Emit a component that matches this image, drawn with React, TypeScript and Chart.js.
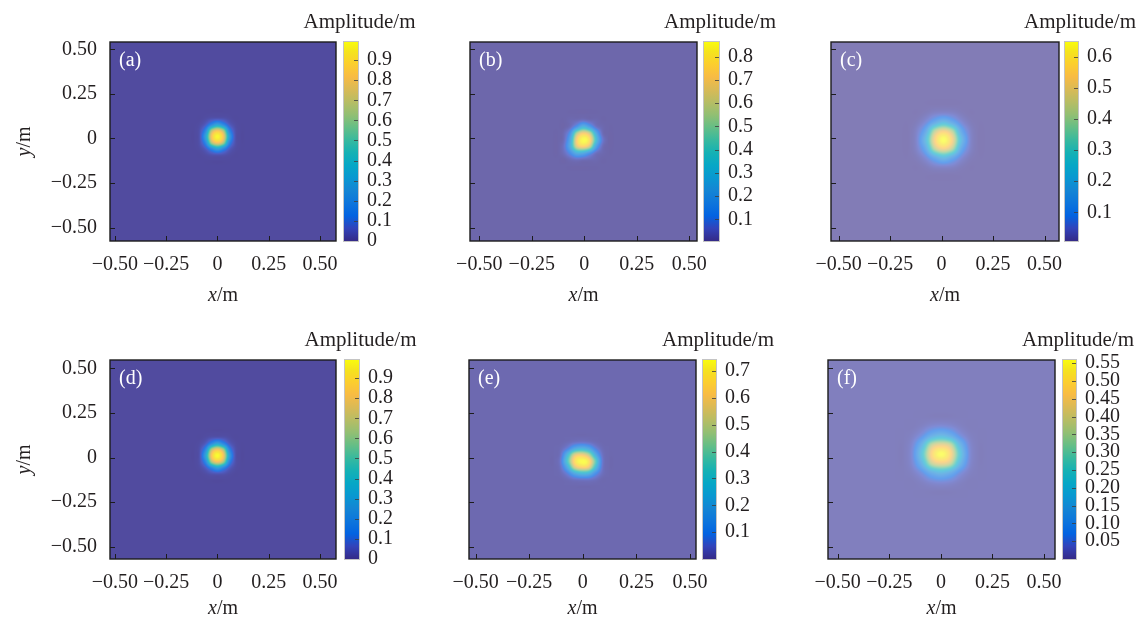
import React, { useEffect, useRef } from 'react';
import { Chart, registerables } from 'chart.js';

Chart.register(...registerables);

// ---------------- data ----------------
const PANEL_LABELS = ['(a)', '(b)', '(c)', '(d)', '(e)', '(f)'];
const AXIS_TICKS = [-0.5, -0.25, 0, 0.25, 0.5];
const X_TICK_LABELS = ['\u22120.50', '\u22120.25', '0', '0.25', '0.50'];
const Y_TICK_LABELS = ['\u22120.50', '\u22120.25', '0', '0.25', '0.50'];
const X_TITLE = ['x', '/m'];
const Y_TITLE = ['y', '/m'];
const CB_TITLE = 'Amplitude/m';

const X_MIN = [-0.524, -0.544, -0.537, -0.524, -0.531, -0.547];
const X_MAX = [0.578, 0.537, 0.57, 0.578, 0.528, 0.553];
const Y_MIN = [-0.575, -0.575, -0.575, -0.569, -0.569, -0.569];
const Y_MAX = [0.541, 0.541, 0.541, 0.547, 0.547, 0.547];

const CB_MIN = [0, 0.007, 0.008, 0, 0, 0];
const CB_MAX = [0.99, 0.863, 0.647, 0.99, 0.741, 0.559];

const CB_TICKS_A = [0, 0.1, 0.2, 0.3, 0.4, 0.5, 0.6, 0.7, 0.8, 0.9];
const CB_LABELS_A = ['0', '0.1', '0.2', '0.3', '0.4', '0.5', '0.6', '0.7', '0.8', '0.9'];
const CB_TICKS_B = [0.1, 0.2, 0.3, 0.4, 0.5, 0.6, 0.7, 0.8];
const CB_LABELS_B = ['0.1', '0.2', '0.3', '0.4', '0.5', '0.6', '0.7', '0.8'];
const CB_TICKS_C = [0.1, 0.2, 0.3, 0.4, 0.5, 0.6];
const CB_LABELS_C = ['0.1', '0.2', '0.3', '0.4', '0.5', '0.6'];
const CB_TICKS_D = [0, 0.1, 0.2, 0.3, 0.4, 0.5, 0.6, 0.7, 0.8, 0.9];
const CB_LABELS_D = ['0', '0.1', '0.2', '0.3', '0.4', '0.5', '0.6', '0.7', '0.8', '0.9'];
const CB_TICKS_E = [0.1, 0.2, 0.3, 0.4, 0.5, 0.6, 0.7];
const CB_LABELS_E = ['0.1', '0.2', '0.3', '0.4', '0.5', '0.6', '0.7'];
const CB_TICKS_F = [0.05, 0.1, 0.15, 0.2, 0.25, 0.3, 0.35, 0.4, 0.45, 0.5, 0.55];
const CB_LABELS_F = ['0.05', '0.10', '0.15', '0.20', '0.25', '0.30', '0.35', '0.40', '0.45', '0.50', '0.55'];

// sample grids (x left->right, y top->bottom) and amplitudes (rows top->bottom)
const GRID_X_A = [-0.112, -0.084, -0.056, -0.028, 0, 0.028, 0.056, 0.084, 0.112];
const GRID_Y_A = [0.142, 0.109, 0.076, 0.043, 0.01, -0.023, -0.056, -0.089, -0.122];
const AMP_A = [
  [0.01, 0.01, 0.01, 0.01, 0.01, 0.01, 0.01, 0.01, 0.01],
  [0.01, 0.01, 0.02, 0.04, 0.05, 0.04, 0.02, 0.01, 0.01],
  [0.01, 0.02, 0.07, 0.21, 0.32, 0.21, 0.07, 0.02, 0.01],
  [0.01, 0.04, 0.21, 0.67, 0.82, 0.67, 0.21, 0.04, 0.01],
  [0.01, 0.05, 0.32, 0.82, 0.98, 0.82, 0.32, 0.05, 0.01],
  [0.01, 0.04, 0.21, 0.67, 0.82, 0.67, 0.21, 0.04, 0.01],
  [0.01, 0.02, 0.07, 0.21, 0.32, 0.21, 0.07, 0.02, 0.01],
  [0.01, 0.01, 0.02, 0.04, 0.05, 0.04, 0.02, 0.01, 0.01],
  [0.01, 0.01, 0.01, 0.01, 0.01, 0.01, 0.01, 0.01, 0.01],
];

const GRID_X_B = [-0.125, -0.095, -0.065, -0.035, -0.005, 0.025, 0.055, 0.085, 0.115];
const GRID_Y_B = [0.136, 0.1, 0.064, 0.028, -0.008, -0.044, -0.08, -0.116, -0.152];
const AMP_B = [
  [0.01, 0.01, 0.01, 0.01, 0.01, 0.01, 0.01, 0.01, 0.01],
  [0.01, 0.01, 0.02, 0.03, 0.05, 0.03, 0.02, 0.01, 0.01],
  [0.01, 0.01, 0.04, 0.16, 0.3, 0.2, 0.06, 0.02, 0.01],
  [0.01, 0.03, 0.16, 0.56, 0.72, 0.62, 0.26, 0.04, 0.01],
  [0.01, 0.04, 0.24, 0.72, 0.86, 0.78, 0.36, 0.08, 0.01],
  [0.01, 0.06, 0.26, 0.64, 0.74, 0.62, 0.22, 0.04, 0.01],
  [0.01, 0.04, 0.13, 0.27, 0.26, 0.16, 0.05, 0.02, 0.01],
  [0.01, 0.01, 0.03, 0.05, 0.04, 0.03, 0.02, 0.01, 0.01],
  [0.01, 0.01, 0.01, 0.01, 0.01, 0.01, 0.01, 0.01, 0.01],
];

const GRID_X_C = [-0.159, -0.117, -0.075, -0.033, 0.009, 0.051, 0.093, 0.135, 0.177];
const GRID_Y_C = [0.184, 0.136, 0.088, 0.04, -0.008, -0.056, -0.104, -0.152, -0.2];
const AMP_C = [
  [0.01, 0.01, 0.01, 0.01, 0.01, 0.01, 0.01, 0.01, 0.01],
  [0.01, 0.01, 0.02, 0.04, 0.05, 0.04, 0.02, 0.01, 0.01],
  [0.01, 0.02, 0.06, 0.15, 0.22, 0.15, 0.06, 0.02, 0.01],
  [0.01, 0.04, 0.15, 0.43, 0.53, 0.43, 0.15, 0.04, 0.01],
  [0.01, 0.05, 0.22, 0.53, 0.65, 0.53, 0.22, 0.05, 0.01],
  [0.01, 0.04, 0.15, 0.43, 0.53, 0.43, 0.15, 0.04, 0.01],
  [0.01, 0.02, 0.06, 0.15, 0.22, 0.15, 0.06, 0.02, 0.01],
  [0.01, 0.01, 0.02, 0.04, 0.05, 0.04, 0.02, 0.01, 0.01],
  [0.01, 0.01, 0.01, 0.01, 0.01, 0.01, 0.01, 0.01, 0.01],
];

const GRID_X_D = [-0.112, -0.084, -0.056, -0.028, 0, 0.028, 0.056, 0.084, 0.112];
const GRID_Y_D = [0.142, 0.109, 0.076, 0.043, 0.01, -0.023, -0.056, -0.089, -0.122];
const AMP_D = [
  [0.01, 0.01, 0.01, 0.01, 0.01, 0.01, 0.01, 0.01, 0.01],
  [0.01, 0.01, 0.02, 0.04, 0.05, 0.04, 0.02, 0.01, 0.01],
  [0.01, 0.02, 0.07, 0.22, 0.33, 0.21, 0.07, 0.02, 0.01],
  [0.01, 0.04, 0.22, 0.68, 0.83, 0.67, 0.21, 0.04, 0.01],
  [0.01, 0.05, 0.33, 0.83, 0.99, 0.82, 0.32, 0.05, 0.01],
  [0.01, 0.04, 0.21, 0.66, 0.81, 0.66, 0.21, 0.04, 0.01],
  [0.01, 0.02, 0.07, 0.2, 0.31, 0.2, 0.07, 0.02, 0.01],
  [0.01, 0.01, 0.02, 0.04, 0.05, 0.04, 0.02, 0.01, 0.01],
  [0.01, 0.01, 0.01, 0.01, 0.01, 0.01, 0.01, 0.01, 0.01],
];

const GRID_X_E = [-0.134, -0.102, -0.07, -0.038, -0.006, 0.026, 0.058, 0.09, 0.122];
const GRID_Y_E = [0.117, 0.083, 0.049, 0.015, -0.019, -0.053, -0.087, -0.121, -0.155];
const AMP_E = [
  [0.01, 0.01, 0.01, 0.01, 0.01, 0.01, 0.01, 0.01, 0.01],
  [0.01, 0.01, 0.02, 0.04, 0.05, 0.04, 0.02, 0.01, 0.01],
  [0.01, 0.02, 0.08, 0.2, 0.25, 0.2, 0.08, 0.02, 0.01],
  [0.01, 0.04, 0.26, 0.55, 0.6, 0.5, 0.22, 0.04, 0.01],
  [0.01, 0.06, 0.34, 0.66, 0.74, 0.69, 0.38, 0.06, 0.01],
  [0.01, 0.04, 0.22, 0.54, 0.64, 0.6, 0.3, 0.05, 0.01],
  [0.01, 0.02, 0.08, 0.21, 0.28, 0.26, 0.12, 0.03, 0.01],
  [0.01, 0.01, 0.02, 0.04, 0.05, 0.05, 0.03, 0.01, 0.01],
  [0.01, 0.01, 0.01, 0.01, 0.01, 0.01, 0.01, 0.01, 0.01],
];

const GRID_X_F = [-0.18, -0.135, -0.09, -0.045, 0, 0.045, 0.09, 0.135, 0.18];
const GRID_Y_F = [0.219, 0.169, 0.119, 0.069, 0.019, -0.031, -0.081, -0.131, -0.181];
const AMP_F = [
  [0.01, 0.01, 0.01, 0.01, 0.01, 0.01, 0.01, 0.01, 0.01],
  [0.01, 0.01, 0.02, 0.04, 0.05, 0.04, 0.02, 0.01, 0.01],
  [0.01, 0.02, 0.06, 0.14, 0.18, 0.14, 0.06, 0.02, 0.01],
  [0.01, 0.04, 0.16, 0.38, 0.44, 0.39, 0.17, 0.04, 0.01],
  [0.01, 0.05, 0.22, 0.47, 0.56, 0.48, 0.23, 0.05, 0.01],
  [0.01, 0.04, 0.16, 0.38, 0.44, 0.39, 0.17, 0.04, 0.01],
  [0.01, 0.02, 0.06, 0.14, 0.18, 0.14, 0.06, 0.02, 0.01],
  [0.01, 0.01, 0.02, 0.04, 0.05, 0.04, 0.02, 0.01, 0.01],
  [0.01, 0.01, 0.01, 0.01, 0.01, 0.01, 0.01, 0.01, 0.01],
];

// tables built from the arrays above
const PANELS = [
  { gx: GRID_X_A, gy: GRID_Y_A, amp: AMP_A, cbTicks: CB_TICKS_A, cbLabels: CB_LABELS_A },
  { gx: GRID_X_B, gy: GRID_Y_B, amp: AMP_B, cbTicks: CB_TICKS_B, cbLabels: CB_LABELS_B },
  { gx: GRID_X_C, gy: GRID_Y_C, amp: AMP_C, cbTicks: CB_TICKS_C, cbLabels: CB_LABELS_C },
  { gx: GRID_X_D, gy: GRID_Y_D, amp: AMP_D, cbTicks: CB_TICKS_D, cbLabels: CB_LABELS_D },
  { gx: GRID_X_E, gy: GRID_Y_E, amp: AMP_E, cbTicks: CB_TICKS_E, cbLabels: CB_LABELS_E },
  { gx: GRID_X_F, gy: GRID_Y_F, amp: AMP_F, cbTicks: CB_TICKS_F, cbLabels: CB_LABELS_F },
];

// ---------------- layout & style ----------------
const LAYOUT = [
  { L: 110, T: 42, R: 336, B: 241, cbL: 344, cbW: 14, col: 0, xt: 60 },
  { L: 470, T: 42, R: 697, B: 241, cbL: 704, cbW: 15, col: 1, xt: 60 },
  { L: 831, T: 42, R: 1059, B: 241, cbL: 1065, cbW: 13, col: 2, xt: 60 },
  { L: 110, T: 360, R: 336, B: 559, cbL: 345, cbW: 14, col: 0, xt: 55 },
  { L: 469, T: 360, R: 696, B: 559, cbL: 703, cbW: 13, col: 1, xt: 55 },
  { L: 828, T: 360, R: 1055, B: 559, cbL: 1063, cbW: 13, col: 2, xt: 55 },
];
const PANEL_ALPHA = [0.86, 0.72, 0.62, 0.86, 0.72, 0.62];
const HP_L = 110, HP_T = 34, HP_R = 40, HP_B = 70;
const CP_L = 60, CP_T = 40, CP_B = 30, CP_LBL = 85;
const TEXT = '#231f20';
const SERIF = "'Liberation Serif', 'Times New Roman', serif";
const FONT_SIZE = 20;

const PARULA_POS = [0, 4, 8, 12, 16, 20, 24, 28, 32, 36, 40, 44, 48, 52, 56, 60, 63];
const PARULA = [
  [53, 42, 135], [50, 67, 186], [3, 99, 225], [13, 117, 220], [20, 133, 212],
  [9, 152, 209], [6, 167, 198], [21, 177, 180], [56, 185, 158], [101, 190, 134],
  [146, 191, 115], [183, 189, 100], [217, 186, 86], [248, 187, 68], [252, 206, 46],
  [245, 228, 29], [249, 251, 14],
];

function parula(t: number): number[] {
  const tt = Math.min(1, Math.max(0, t));
  const p = tt * 63;
  let k = 0;
  while (k < PARULA_POS.length - 2 && PARULA_POS[k + 1] < p) k++;
  const f = (p - PARULA_POS[k]) / (PARULA_POS[k + 1] - PARULA_POS[k]);
  const c0 = PARULA[k], c1 = PARULA[k + 1];
  return [c0[0] + (c1[0] - c0[0]) * f, c0[1] + (c1[1] - c0[1]) * f, c0[2] + (c1[2] - c0[2]) * f];
}

function cr(p0: number, p1: number, p2: number, p3: number, t: number) {
  return p1 + 0.5 * t * (p2 - p0 + t * (2 * p0 - 5 * p1 + 4 * p2 - p3 + t * (3 * (p1 - p2) + p3 - p0)));
}

function sampleField(M: number[][], fx: number, fy: number) {
  const n = M.length, m = M[0].length;
  const ix = Math.floor(fx), iy = Math.floor(fy);
  const tx = fx - ix, ty = fy - iy;
  const cl = (v: number, hi: number) => (v < 0 ? 0 : v > hi ? hi : v);
  const g = (r: number, c: number) => M[cl(r, n - 1)][cl(c, m - 1)];
  const rows: number[] = [];
  for (let dy = -1; dy <= 2; dy++) {
    const r = iy + dy;
    rows.push(cr(g(r, ix - 1), g(r, ix), g(r, ix + 1), g(r, ix + 2), tx));
  }
  return cr(rows[0], rows[1], rows[2], rows[3], ty);
}

function drawMixed(ctx: CanvasRenderingContext2D, parts: string[], cx: number, y: number) {
  const fI = `italic ${FONT_SIZE}px ${SERIF}`;
  const fN = `${FONT_SIZE}px ${SERIF}`;
  ctx.font = fI;
  const w1 = ctx.measureText(parts[0]).width;
  ctx.font = fN;
  const w2 = ctx.measureText(parts[1]).width;
  const x0 = cx - (w1 + w2) / 2;
  ctx.textAlign = 'left';
  ctx.font = fI;
  ctx.fillText(parts[0], x0, y);
  ctx.font = fN;
  ctx.fillText(parts[1], x0 + w1, y);
}

function heatPlugin(k: number) {
  return {
    id: 'heat' + k,
    beforeDatasetsDraw(chart: any) {
      const ca = chart.chartArea;
      const xs = chart.scales.x, ys = chart.scales.y;
      const w = Math.round(ca.right - ca.left), h = Math.round(ca.bottom - ca.top);
      const off = document.createElement('canvas');
      off.width = w;
      off.height = h;
      const octx = off.getContext('2d') as CanvasRenderingContext2D;
      const img = octx.createImageData(w, h);
      const P = PANELS[k];
      const gx0 = P.gx[0], gdx = P.gx[1] - P.gx[0];
      const gy0 = P.gy[0], gdy = P.gy[1] - P.gy[0];
      const a = PANEL_ALPHA[k];
      const lo = CB_MIN[k], hi = CB_MAX[k];
      const fxs: number[] = [];
      for (let px = 0; px < w; px++) fxs.push((xs.getValueForPixel(ca.left + px + 0.5) - gx0) / gdx);
      for (let py = 0; py < h; py++) {
        const fy = (ys.getValueForPixel(ca.top + py + 0.5) - gy0) / gdy;
        for (let px = 0; px < w; px++) {
          const v = sampleField(P.amp, fxs[px], fy);
          const c = parula((v - lo) / (hi - lo));
          const i = (py * w + px) * 4;
          img.data[i] = a * c[0] + (1 - a) * 255;
          img.data[i + 1] = a * c[1] + (1 - a) * 255;
          img.data[i + 2] = a * c[2] + (1 - a) * 255;
          img.data[i + 3] = 255;
        }
      }
      octx.putImageData(img, 0, 0);
      chart.ctx.drawImage(off, ca.left, ca.top, w, h);
    },
    afterDraw(chart: any) {
      const ctx: CanvasRenderingContext2D = chart.ctx;
      const ca = chart.chartArea;
      const xs = chart.scales.x, ys = chart.scales.y;
      ctx.save();
      ctx.strokeStyle = '#1c1c1c';
      ctx.lineWidth = 1;
      ctx.beginPath();
      for (const v of AXIS_TICKS) {
        const px = Math.round(xs.getPixelForValue(v)) + 0.5;
        ctx.moveTo(px, ca.bottom);
        ctx.lineTo(px, ca.bottom - 5);
        const py = Math.round(ys.getPixelForValue(v)) + 0.5;
        ctx.moveTo(ca.left, py);
        ctx.lineTo(ca.left + 5, py);
      }
      ctx.stroke();
      ctx.lineWidth = 1.4;
      ctx.strokeRect(ca.left, ca.top, ca.right - ca.left, ca.bottom - ca.top);
      ctx.fillStyle = '#ffffff';
      ctx.font = `${FONT_SIZE}px ${SERIF}`;
      ctx.textAlign = 'left';
      ctx.textBaseline = 'alphabetic';
      ctx.fillText(PANEL_LABELS[k], ca.left + 9, ca.top + 24);
      ctx.fillStyle = TEXT;
      drawMixed(ctx, X_TITLE, (ca.left + ca.right) / 2, ca.bottom + LAYOUT[k].xt);
      if (LAYOUT[k].col === 0) {
        ctx.translate(ca.left - 85, (ca.top + ca.bottom) / 2);
        ctx.rotate(-Math.PI / 2);
        ctx.textBaseline = 'middle';
        drawMixed(ctx, Y_TITLE, 0, 0);
      }
      ctx.restore();
    },
  };
}

function cbPlugin(k: number) {
  return {
    id: 'cb' + k,
    afterDraw(chart: any) {
      const ctx: CanvasRenderingContext2D = chart.ctx;
      const ca = chart.chartArea;
      const ys = chart.scales.y;
      ctx.save();
      ctx.strokeStyle = 'rgba(60,60,60,0.8)';
      ctx.lineWidth = 1;
      ctx.beginPath();
      for (const v of PANELS[k].cbTicks) {
        const py = Math.round(ys.getPixelForValue(v)) + 0.5;
        ctx.moveTo(ca.right - 4, py);
        ctx.lineTo(ca.right, py);
      }
      ctx.stroke();
      ctx.strokeStyle = '#c4c4c4';
      ctx.strokeRect(ca.left - 0.5, ca.top - 0.5, ca.right - ca.left + 1, ca.bottom - ca.top + 1);
      ctx.fillStyle = TEXT;
      ctx.font = `${FONT_SIZE + 1}px ${SERIF}`;
      ctx.textAlign = 'center';
      ctx.textBaseline = 'alphabetic';
      ctx.fillText(CB_TITLE, (ca.left + ca.right) / 2 + 8.5, ca.top - 14);
      ctx.restore();
    },
  };
}

function heatConfig(k: number): any {
  const P = PANELS[k];
  const showY = LAYOUT[k].col === 0;
  const points: any[] = [];
  P.gy.forEach((y, r) => P.gx.forEach((x, c) => points.push({ x, y, v: P.amp[r][c] })));
  return {
    type: 'scatter',
    data: { datasets: [{ data: points, pointRadius: 0, pointHoverRadius: 0 }] },
    options: {
      responsive: false,
      animation: false,
      devicePixelRatio: 1,
      events: [],
      layout: { padding: { left: 0, top: HP_T, right: HP_R, bottom: 0 } },
      plugins: { legend: { display: false }, tooltip: { enabled: false } },
      scales: {
        x: {
          type: 'linear',
          position: 'bottom',
          min: X_MIN[k],
          max: X_MAX[k],
          grid: { display: false, drawTicks: false },
          border: { display: false },
          afterBuildTicks: (s: any) => {
            s.ticks = AXIS_TICKS.map((v) => ({ value: v }));
          },
          ticks: {
            autoSkip: false,
            maxRotation: 0,
            minRotation: 0,
            padding: 12,
            color: TEXT,
            font: { family: SERIF, size: FONT_SIZE },
            callback: (v: number) => X_TICK_LABELS[AXIS_TICKS.indexOf(v)],
          },
          afterFit: (s: any) => {
            s.height = HP_B;
          },
        },
        y: {
          type: 'linear',
          position: 'left',
          min: Y_MIN[k],
          max: Y_MAX[k],
          grid: { display: false, drawTicks: false },
          border: { display: false },
          afterBuildTicks: (s: any) => {
            s.ticks = AXIS_TICKS.map((v) => ({ value: v }));
          },
          ticks: {
            display: showY,
            autoSkip: false,
            padding: 13,
            color: TEXT,
            font: { family: SERIF, size: FONT_SIZE },
            callback: (v: number) => Y_TICK_LABELS[AXIS_TICKS.indexOf(v)],
          },
          afterFit: (s: any) => {
            s.width = HP_L;
          },
        },
      },
    },
    plugins: [heatPlugin(k)],
  };
}

function cbConfig(k: number): any {
  const P = PANELS[k];
  const lo = CB_MIN[k], hi = CB_MAX[k];
  return {
    type: 'bar',
    data: {
      labels: [''],
      datasets: [
        {
          data: [[lo, hi]],
          borderWidth: 0,
          borderSkipped: false,
          barPercentage: 1,
          categoryPercentage: 1,
          backgroundColor: (ctx: any) => {
            const ca = ctx.chart.chartArea;
            if (!ca) return '#352a87';
            const g = ctx.chart.ctx.createLinearGradient(0, ca.bottom, 0, ca.top);
            PARULA.forEach((c, i) => g.addColorStop(PARULA_POS[i] / 63, `rgb(${c[0]},${c[1]},${c[2]})`));
            return g;
          },
        },
      ],
    },
    options: {
      responsive: false,
      animation: false,
      devicePixelRatio: 1,
      events: [],
      layout: { padding: { left: CP_L, top: CP_T, right: 0, bottom: CP_B } },
      plugins: { legend: { display: false }, tooltip: { enabled: false } },
      scales: {
        x: { display: false },
        y: {
          type: 'linear',
          position: 'right',
          min: lo,
          max: hi,
          grid: { display: false, drawTicks: false },
          border: { display: false },
          afterBuildTicks: (s: any) => {
            s.ticks = P.cbTicks.map((v) => ({ value: v }));
          },
          ticks: {
            autoSkip: false,
            padding: 9,
            color: TEXT,
            font: { family: SERIF, size: FONT_SIZE },
            callback: (v: number) => P.cbLabels[P.cbTicks.indexOf(v)],
          },
          afterFit: (s: any) => {
            s.width = CP_LBL;
          },
        },
      },
    },
    plugins: [cbPlugin(k)],
  };
}

export default function App() {
  const refs = useRef<(HTMLCanvasElement | null)[]>([]);
  useEffect(() => {
    const charts: Chart[] = [];
    LAYOUT.forEach((_, k) => {
      const hc = refs.current[2 * k];
      const cc = refs.current[2 * k + 1];
      if (hc) charts.push(new Chart(hc, heatConfig(k)));
      if (cc) charts.push(new Chart(cc, cbConfig(k)));
    });
    return () => charts.forEach((c) => c.destroy());
  }, []);

  return (
    <div style={{ position: 'absolute', left: 0, top: 0, width: 1141, height: 621, overflow: 'hidden', background: '#fff' }}>
      {LAYOUT.map((p, k) => {
        const hw = HP_L + (p.R - p.L) + HP_R;
        const hh = HP_T + (p.B - p.T) + HP_B;
        const cw = CP_L + p.cbW + CP_LBL;
        const ch = CP_T + (p.B - p.T) + CP_B;
        return (
          <React.Fragment key={k}>
            <canvas
              ref={(el) => {
                refs.current[2 * k] = el;
              }}
              width={hw}
              height={hh}
              style={{ position: 'absolute', left: p.L - HP_L, top: p.T - HP_T, width: hw, height: hh }}
            />
            <canvas
              ref={(el) => {
                refs.current[2 * k + 1] = el;
              }}
              width={cw}
              height={ch}
              style={{ position: 'absolute', left: p.cbL - CP_L, top: p.T - CP_T, width: cw, height: ch }}
            />
          </React.Fragment>
        );
      })}
    </div>
  );
}
